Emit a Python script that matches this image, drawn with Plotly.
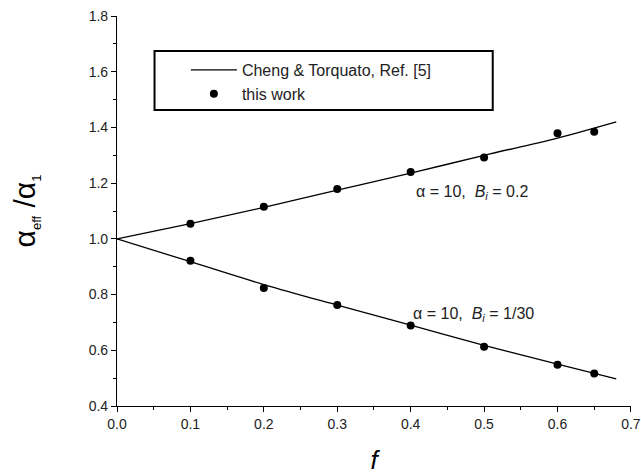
import plotly.graph_objects as go

# Theory curves (Cheng & Torquato)
f_line = [0.0, 0.1, 0.2, 0.3, 0.4, 0.5, 0.6, 0.68]
upper_line = [1.0, 1.055, 1.113, 1.175, 1.236, 1.300, 1.362, 1.420]
lower_line = [1.0, 0.918, 0.836, 0.762, 0.690, 0.618, 0.550, 0.497]

# This work (symbols)
f_pts = [0.1, 0.2, 0.3, 0.4, 0.5, 0.6, 0.65]
upper_pts = [1.054, 1.115, 1.179, 1.240, 1.292, 1.379, 1.385]
lower_pts = [0.921, 0.824, 0.763, 0.689, 0.613, 0.548, 0.517]

FONT = "Arial, Liberation Sans, sans-serif"

fig = go.Figure()
fig.add_trace(go.Scatter(x=f_line, y=upper_line, mode="lines",
                         line=dict(color="black", width=1.3, shape="spline"),
                         name="Cheng & Torquato, Ref. [5]"))
fig.add_trace(go.Scatter(x=f_line, y=lower_line, mode="lines",
                         line=dict(color="black", width=1.3, shape="spline"),
                         showlegend=False))
fig.add_trace(go.Scatter(x=f_pts, y=upper_pts, mode="markers",
                         marker=dict(color="black", size=8),
                         name="this work"))
fig.add_trace(go.Scatter(x=f_pts, y=lower_pts, mode="markers",
                         marker=dict(color="black", size=8),
                         showlegend=False))

axis_common = dict(showline=True, linecolor="black", linewidth=1.2,
                   ticks="outside", ticklen=5, tickwidth=1, tickcolor="black",
                   showgrid=False, zeroline=False, mirror=False, automargin=False,
                   ticklabeloverflow="allow",
                   tickfont=dict(family=FONT, size=14, color="#222"))

fig.update_xaxes(range=[0, 0.7001], dtick=0.1, tickformat=".1f",
                 minor=dict(dtick=0.05, ticks="outside", ticklen=3, tickcolor="black"),
                 title=dict(text="<i>f</i>", font=dict(family=FONT, size=26, color="black"),
                            standoff=20),
                 **axis_common)
fig.update_yaxes(range=[0.4, 1.8001], dtick=0.2, tickformat=".1f",
                 minor=dict(dtick=0.1, ticks="outside", ticklen=3, tickcolor="black"),
                 title=dict(text="α<sub><span style='font-size:13px'>eff</span></sub> /α<sub><span style='font-size:13px'>1</span></sub>",
                            font=dict(family=FONT, size=30, color="black"),
                            standoff=44),
                 **axis_common)

fig.add_shape(type="rect", xref="paper", yref="paper",
              x0=0.073, x1=0.731, y0=0.759, y1=0.910,
              line=dict(color="black", width=2), fillcolor="rgba(0,0,0,0)")

fig.add_annotation(x=0.484, y=1.165, xref="x", yref="y", showarrow=False,
                   text="α = 10,  <i>B<sub>i</sub></i> = 0.2",
                   font=dict(family=FONT, size=16, color="#222"))
fig.add_annotation(x=0.486, y=0.728, xref="x", yref="y", showarrow=False,
                   text="α = 10,  <i>B<sub>i</sub></i> = 1/30",
                   font=dict(family=FONT, size=16, color="#222"))

fig.update_layout(
    width=641, height=475,
    margin=dict(l=117, r=10, t=16, b=69),
    paper_bgcolor="white", plot_bgcolor="white",
    showlegend=True,
    legend=dict(x=0.134, y=0.905, xanchor="left", yanchor="top",
                bgcolor="rgba(0,0,0,0)", borderwidth=0,
                font=dict(family=FONT, size=16, color="#222"),
                itemwidth=46, tracegroupgap=0),
)

fig.write_html("out.html")
